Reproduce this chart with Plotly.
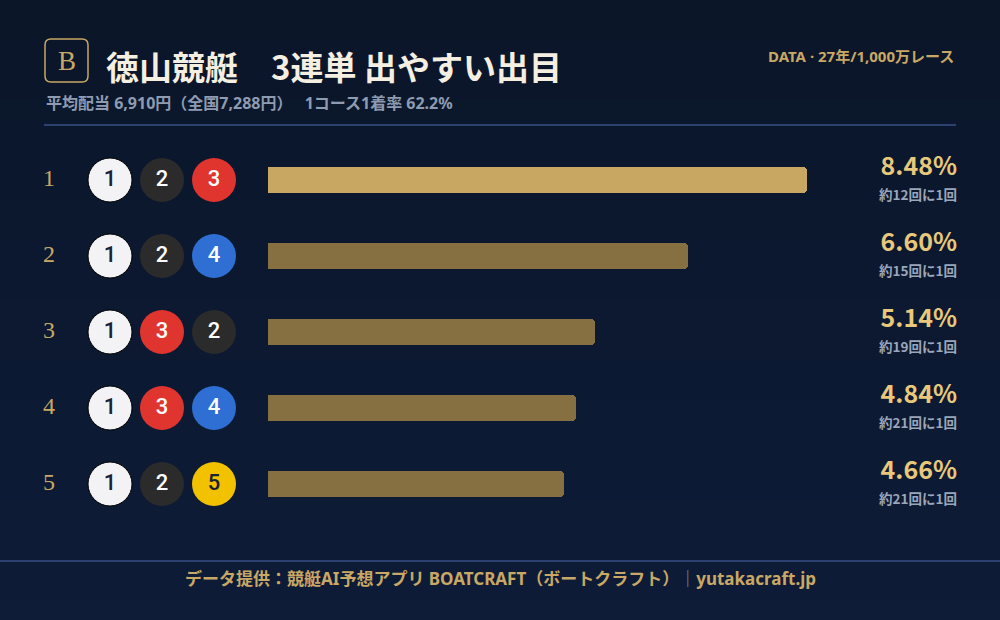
import plotly.graph_objects as go

# ---- data ----
ranks = [1, 2, 3, 4, 5]
combos = [[1, 2, 3], [1, 2, 4], [1, 3, 2], [1, 3, 4], [1, 2, 5]]
rates = [8.48, 6.60, 5.14, 4.84, 4.66]
freq_labels = ["約12回に1回", "約15回に1回", "約19回に1回", "約21回に1回", "約21回に1回"]
title = "徳山競艇　3連単 出やすい出目"
subtitle = "平均配当 6,910円（全国7,288円）　 1コース1着率 62.2%"
data_note = "DATA · 27年/1,000万レース"

# ---- style ----
W, H = 1000, 620
boat_fill = {1: "#f3f3f5", 2: "#2b2b2b", 3: "#e0342f", 4: "#2f6fd3", 5: "#f2c200"}
boat_text = {1: "#1a2238", 2: "#ffffff", 3: "#ffffff", 4: "#ffffff", 5: "#1a2238"}
gold = "#c9a865"
SANS = "Noto Sans CJK JP, Noto Sans, sans-serif"
SANS2 = "Noto Sans, Noto Sans CJK JP, sans-serif"
SERIF = "Liberation Serif, DejaVu Serif, serif"

row0, gap = 180, 76
ylo = 1 - row0 / gap
yhi = 1 + (H - row0) / gap

fig = go.Figure()

# bars
fig.add_trace(go.Bar(
    x=rates, y=ranks, orientation="h", width=26 / gap,
    marker=dict(color=[("#c8a763" if i == 0 else "#867042") for i in range(len(rates))],
                cornerradius=4, line=dict(width=0)),
    xaxis="x", yaxis="y", hoverinfo="skip", showlegend=False,
))

# boat circles
cx = [110, 162, 214]
for j in range(3):
    nums = [c[j] for c in combos]
    fig.add_trace(go.Scatter(
        x=[cx[j]] * len(ranks), y=ranks, mode="markers+text",
        text=[str(n) for n in nums], textposition="middle center",
        marker=dict(size=44, color=[boat_fill[n] for n in nums],
                    line=dict(width=[1 if n == 1 else 0 for n in nums], color="#000000")),
        textfont=dict(family="Roboto, Noto Sans, sans-serif", size=22, weight=500,
                      color=[boat_text[n] for n in nums]),
        xaxis="x2", yaxis="y", hoverinfo="skip", showlegend=False,
    ))

# rank numbers
fig.add_trace(go.Scatter(
    x=[49] * len(ranks), y=ranks, mode="text", text=[str(r) for r in ranks],
    textposition="middle center", textfont=dict(family=SERIF, size=24, color=gold),
    xaxis="x2", yaxis="y", hoverinfo="skip", showlegend=False,
))

# percentages
fig.add_trace(go.Scatter(
    x=[957] * len(ranks), y=[r - 11 / gap for r in ranks], mode="text",
    text=[f"{v:.2f}%" for v in rates], textposition="middle left",
    textfont=dict(family=SANS, size=25, color="#e8c87a", weight="bold"),
    xaxis="x2", yaxis="y", hoverinfo="skip", showlegend=False,
))
fig.add_trace(go.Scatter(
    x=[957] * len(ranks), y=[r + 17 / gap for r in ranks], mode="text",
    text=freq_labels, textposition="middle left",
    textfont=dict(family=SANS, size=13.5, color="#9aa6ba", weight="bold"),
    xaxis="x2", yaxis="y", hoverinfo="skip", showlegend=False,
))

# background gradient bands
shapes = []
nb = 31
for k in range(nb):
    t = k / (nb - 1)
    r = int(11 + (14 - 11) * t)
    g = int(22 + (28 - 22) * t)
    b = int(41 + (56 - 41) * t)
    shapes.append(dict(type="rect", xref="paper", yref="paper", x0=0, x1=1,
                       y0=1 - (k + 1) / nb, y1=1 - k / nb + 0.001,
                       fillcolor=f"rgb({r},{g},{b})", line=dict(width=0), layer="below"))

# badge (rounded square)
x0, y0, x1, y1, rr = 45, 39, 88, 82, 6
path = (f"M{x0+rr},{y0} L{x1-rr},{y0} Q{x1},{y0} {x1},{y0+rr} L{x1},{y1-rr} "
        f"Q{x1},{y1} {x1-rr},{y1} L{x0+rr},{y1} Q{x0},{y1} {x0},{y1-rr} "
        f"L{x0},{y0+rr} Q{x0},{y0} {x0+rr},{y0} Z")
shapes.append(dict(type="path", path=path, xref="x2", yref="y2",
                   line=dict(color=gold, width=1.5), fillcolor="rgba(0,0,0,0)"))
# dividers
shapes.append(dict(type="line", xref="x2", yref="y2", x0=44, x1=956, y0=125, y1=125,
                   line=dict(color="#2c4170", width=2)))
shapes.append(dict(type="line", xref="x2", yref="y2", x0=0, x1=1000, y0=561, y1=561,
                   line=dict(color="#2c4170", width=2)))


def ann(text, x, y, size, color, anchor="left", family=SANS, weight="bold"):
    return dict(text=text, x=x, y=y, xref="x2", yref="y2", showarrow=False,
                xanchor=anchor, yanchor="middle",
                font=dict(family=family, size=size, color=color, weight=weight))


annotations = [
    ann("B", 66.5, 61, 27, gold, anchor="center", family=SERIF, weight="normal"),
    ann(title, 104, 66, 33, "#f5efe1"),
    ann(subtitle, 44, 103, 16, "#8e9bb1", family=SANS2),
    ann(data_note, 956, 56, 15, gold, anchor="right", family=SANS2),
    ann("データ提供：競艇AI予想アプリ BOATCRAFT（ボートクラフト）"
        "<span style='color:#7d879a'>｜</span>yutakacraft.jp", 500, 578, 17, gold,
        anchor="center", family=SANS2),
]

fig.update_layout(
    width=W, height=H, margin=dict(l=0, r=0, t=0, b=0),
    paper_bgcolor="#0c182f", plot_bgcolor="rgba(0,0,0,0)",
    shapes=shapes, annotations=annotations, bargap=0,
    xaxis=dict(domain=[268 / W, 807 / W], range=[0, max(rates)], visible=False,
               fixedrange=True, anchor="y"),
    xaxis2=dict(domain=[0, 1], range=[0, W], visible=False, fixedrange=True, anchor="y"),
    yaxis=dict(domain=[0, 1], range=[yhi, ylo], visible=False, fixedrange=True, anchor="x"),
    yaxis2=dict(domain=[0, 1], range=[H, 0], visible=False, overlaying="y",
                fixedrange=True, anchor="x2"),
)

fig.write_html("out.html", config={"displayModeBar": False},
               post_script="document.body.style.margin='0';document.body.style.padding='0';")
